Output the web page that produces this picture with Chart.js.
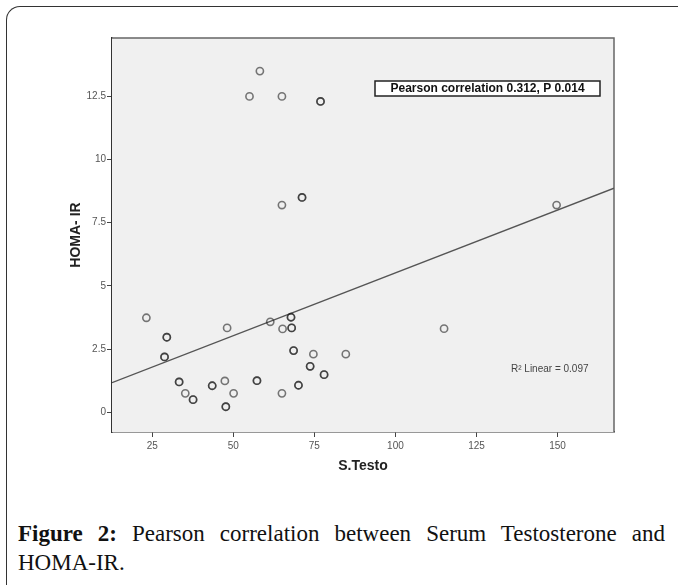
<!DOCTYPE html>
<html>
<head>
<meta charset="utf-8">
<script src="https://cdn.jsdelivr.net/npm/chart.js@4.4.1/dist/chart.umd.min.js"></script>
<style>
  body { margin: 0; background: #fff; width: 678px; height: 585px; overflow: hidden; position: relative; }
  #card { position: absolute; left: 6px; top: 6px; width: 700px; height: 620px;
          border-left: 1.5px solid #333; border-top: 1.5px solid #333; border-top-left-radius: 14px; }
  #chart { position: absolute; left: 0; top: 0; }
  #caption { position: absolute; left: 18px; top: 519px; width: 647px;
             font-family: "Liberation Serif", serif; font-size: 23px; line-height: 29px; color: #111; }
  #caption .l1 { text-align: justify; text-align-last: justify; }
  #caption b { font-weight: bold; }
</style>
</head>
<body>
<div id="card"></div>
<canvas id="chart" width="678" height="490"></canvas>
<div id="caption">
  <div class="l1"><b>Figure 2:</b> Pearson correlation between Serum Testosterone and</div>
  <div>HOMA-IR.</div>
</div>
<script>
// S.Testo vs HOMA-IR (dark circles in the picture are two cases on the same spot)
var testo = [58.2, 55.0, 65.0, 76.9, 76.9, 65.0, 71.2, 71.2, 149.7,
  23.2, 29.5, 29.5, 28.8, 28.8, 48.1, 61.4, 65.2, 67.8, 67.8, 68.0, 68.0,
  68.6, 68.6, 74.7, 84.7, 73.7, 73.7, 78.0, 78.0, 115.0,
  33.3, 33.3, 35.2, 37.6, 37.6, 43.5, 43.5, 47.4, 50.1, 47.7, 47.7,
  57.3, 57.3, 65.0, 70.1, 70.1]
var homa = [13.5, 12.5, 12.5, 12.3, 12.3, 8.2, 8.5, 8.5, 8.2,
  3.74, 2.97, 2.97, 2.19, 2.19, 3.34, 3.58, 3.30, 3.76, 3.76, 3.34, 3.34,
  2.44, 2.44, 2.30, 2.30, 1.82, 1.82, 1.49, 1.49, 3.31,
  1.20, 1.20, 0.75, 0.50, 0.50, 1.05, 1.05, 1.24, 0.75, 0.22, 0.22,
  1.25, 1.25, 0.75, 1.07, 1.07]

var xTicks = [25, 50, 75, 100, 125, 150]
var yTicks = [0, 2.5, 5, 7.5, 10, 12.5]
var xRange = [12.6, 167.4]
var yRange = [-0.78, 14.81]

// linear fit as drawn
var fitIntercept = 0.544
var fitSlope = 0.0497

var legendText = 'Pearson correlation 0.312, P 0.014'
var r2Text = 'R\u00B2 Linear = 0.097'

var points = testo.map(function (x, i) { return { x: x, y: homa[i] } })
var fitPoints = xRange.map(function (x) { return { x: x, y: fitIntercept + fitSlope * x } })

var spssLook = {
  id: 'spssLook',
  beforeDatasetsDraw: function (chart) {
    var c = chart.ctx, a = chart.chartArea
    c.save()
    c.fillStyle = '#f0f0f0'
    c.fillRect(a.left, a.top, a.right - a.left, a.bottom - a.top)
    c.strokeStyle = '#666'
    c.lineWidth = 1.5
    c.beginPath()
    c.moveTo(a.left, a.top); c.lineTo(a.right, a.top); c.lineTo(a.right, a.bottom)
    c.stroke()
    c.restore()
  },
  afterDraw: function (chart) {
    var c = chart.ctx, a = chart.chartArea
    c.save()
    // correlation box
    var bx = a.left + 263, by = a.top + 43, bw = 225, bh = 15
    c.fillStyle = '#fff'
    c.fillRect(bx, by, bw, bh)
    c.strokeStyle = '#222'
    c.lineWidth = 1.5
    c.strokeRect(bx, by, bw, bh)
    c.fillStyle = '#111'
    c.font = 'bold 12px "Liberation Sans", Arial'
    c.textAlign = 'center'
    c.textBaseline = 'middle'
    c.fillText(legendText, bx + bw / 2, by + bh / 2 + 0.5)
    // R squared label
    c.fillStyle = '#444'
    c.font = '10px "Liberation Sans", Arial'
    c.textAlign = 'left'
    c.fillText(r2Text, a.left + 399, a.top + 331)
    c.restore()
  }
}

var tickFont = { family: '"Liberation Sans", Arial', size: 10 }
var titleFont = { family: '"Liberation Sans", Arial', size: 14, weight: 'bold' }

new Chart(document.getElementById('chart'), {
  type: 'scatter',
  data: {
    datasets: [{
      data: points,
      pointRadius: 3.6,
      pointBorderWidth: 1.6,
      pointBorderColor: 'rgba(34,34,34,0.6)',
      pointBackgroundColor: 'rgba(0,0,0,0)'
    }, {
      type: 'line',
      data: fitPoints,
      borderColor: '#555',
      borderWidth: 1.4,
      pointRadius: 0,
      fill: false
    }]
  },
  options: {
    responsive: false,
    animation: false,
    devicePixelRatio: 1,
    layout: { padding: { left: 0, right: 64, top: 38, bottom: 0 } },
    plugins: { legend: { display: false }, tooltip: { enabled: false } },
    scales: {
      x: {
        type: 'linear',
        min: xRange[0],
        max: xRange[1],
        afterBuildTicks: function (s) { s.ticks = xTicks.map(function (v) { return { value: v } }) },
        afterFit: function (s) { s.height = 58 },
        ticks: { font: tickFont, color: '#555', padding: 3, maxRotation: 0,
                 callback: function (v) { return String(v) } },
        grid: { drawOnChartArea: false, drawTicks: true, tickLength: 5, color: '#444' },
        border: { display: true, color: '#333', width: 1.5 },
        title: { display: true, text: 'S.Testo', font: titleFont, color: '#222',
                 padding: { top: 0, bottom: 15.6 } }
      },
      y: {
        type: 'linear',
        min: yRange[0],
        max: yRange[1],
        afterBuildTicks: function (s) { s.ticks = yTicks.map(function (v) { return { value: v } }) },
        afterFit: function (s) { s.width = 112 },
        ticks: { font: tickFont, color: '#555', padding: 1,
                 callback: function (v) { return String(v) } },
        grid: { drawOnChartArea: false, drawTicks: true, tickLength: 5, color: '#444' },
        border: { display: true, color: '#333', width: 1.5 },
        title: { display: true, text: 'HOMA- IR', font: titleFont, color: '#222',
                 padding: { top: 67.6, bottom: 0 } }
      }
    }
  },
  plugins: [spssLook]
})
</script>
</body>
</html>
